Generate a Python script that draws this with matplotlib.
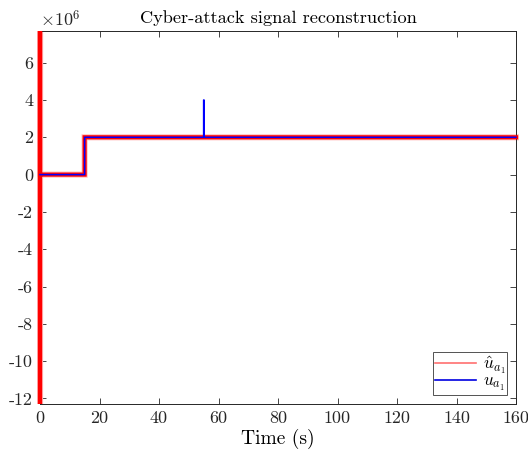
import matplotlib
matplotlib.use("Agg")
import matplotlib.pyplot as plt
from matplotlib.lines import Line2D
from matplotlib.ticker import FuncFormatter
from matplotlib.transforms import Bbox, TransformedBbox

plt.rcParams["font.family"] = ["cmr10", "DejaVu Serif"]
plt.rcParams["mathtext.fontset"] = "cm"

# Attack signal u_a1 (step at 15 s, short burst at 55 s)
t_true = [0, 15, 15, 55, 55, 55.15, 55.15, 160]
u_true = [0, 0, 2.0e6, 2.0e6, 4.0e6, 4.0e6, 2.0e6, 2.0e6]

# Reconstructed signal (initial transient, then follows the step)
t_hat = [0, 0, 0, 0, 15, 15, 160]
u_hat = [3.0e7, -4.0e7, 1.0e7, 0, 0, 2.0e6, 2.0e6]

xticks = [0, 20, 40, 60, 80, 100, 120, 140, 160]
yticks = [-12e6, -10e6, -8e6, -6e6, -4e6, -2e6, 0, 2e6, 4e6, 6e6]
y_scale = 1e6

fig = plt.figure(figsize=(5.28, 4.59), dpi=100)
ax = fig.add_axes([40 / 528, 55 / 459, 476 / 528, 373 / 459])

# let line widths spill a little past the left/right spines
clip = TransformedBbox(Bbox([[-0.006, 0], [1.006, 1]]), ax.transAxes)

# Noisy estimate rendered as a red band with soft edges
l1, = ax.plot(t_hat, u_hat, color="#ffbcbc", lw=4.4, solid_joinstyle="miter", zorder=2)
l2, = ax.plot(t_hat, u_hat, color="#ff0000", lw=3.0, solid_joinstyle="miter", zorder=3)
l3, = ax.plot(t_true, u_true, color="#0000ff", lw=1.1, zorder=4)
for ln in (l1, l2, l3):
    ln.set_clip_box(clip)
    ln.set_snap(False)

ax.set_xlim(0, 160)
ax.set_ylim(-12.3e6, 7.7e6)
ax.set_xticks(xticks)
ax.set_yticks(yticks)
ax.yaxis.set_major_formatter(FuncFormatter(lambda v, p: "%d" % round(v / y_scale)))
ax.tick_params(direction="in", top=True, right=True, labelsize=13,
               length=4, width=0.6, colors="#262626", pad=5)
for s in ax.spines.values():
    s.set_color("#262626")
    s.set_linewidth(0.7)

ax.text(0.0, 1.005, r"$\times10^{6}$", transform=ax.transAxes, fontsize=13,
        ha="left", va="bottom", color="#262626")

ax.set_title("Cyber-attack signal reconstruction", fontsize=13.2, pad=6)
ax.set_xlabel("Time (s)", fontsize=14, labelpad=2)

handles = [Line2D([], [], color="#ff7070", lw=1.2),
           Line2D([], [], color="#0000e0", lw=1.2)]
leg = ax.legend(handles, [r"$\hat{u}_{a_1}$", r"$u_{a_1}$"], loc="lower right",
                fontsize=12.5, frameon=True, fancybox=False, edgecolor="#262626",
                handlelength=2.4, borderaxespad=0.5, labelspacing=-0.15,
                handletextpad=0.35, borderpad=0.12)
leg.get_frame().set_linewidth(0.7)

fig.savefig("out.png", dpi=100)
